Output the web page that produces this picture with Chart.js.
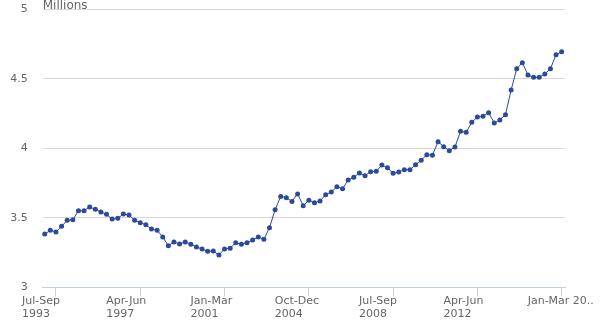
<!DOCTYPE html>
<html>
<head>
<meta charset="utf-8">
<script src="https://cdn.jsdelivr.net/npm/chart.js@4/dist/chart.umd.min.js"></script>
<style>
  body { margin: 0; background: #fff; }
  #wrap { width: 600px; height: 336px; position: relative; }
</style>
</head>
<body>
<div id="wrap"><canvas id="myChart"></canvas></div>
<script>
// --------------------
// Data
// --------------------
const periodNames = ["Jan-Mar", "Apr-Jun", "Jul-Sep", "Oct-Dec"];
const firstYear = 1993;
const quarterCount = 93;

// Quarter names, Jan-Mar 1993 .. Jan-Mar 2016
const quarters = [];
for (let i = 0; i < quarterCount; i++) {
  quarters.push(periodNames[i % 4] + " " + (firstYear + Math.floor(i / 4)));
}

// Millions
const values = [
  3.383, 3.410, 3.398, 3.439, 3.482, 3.486, 3.551, 3.551, 3.578, 3.561,
  3.542, 3.525, 3.491, 3.496, 3.527, 3.520, 3.482, 3.465, 3.450, 3.419,
  3.410, 3.362, 3.299, 3.326, 3.312, 3.326, 3.309, 3.290, 3.276, 3.259,
  3.261, 3.232, 3.276, 3.281, 3.321, 3.309, 3.321, 3.340, 3.362, 3.345,
  3.429, 3.558, 3.654, 3.644, 3.618, 3.672, 3.587, 3.626, 3.609, 3.621,
  3.666, 3.686, 3.724, 3.709, 3.772, 3.791, 3.822, 3.803, 3.832, 3.834,
  3.880, 3.860, 3.820, 3.829, 3.846, 3.846, 3.882, 3.914, 3.954, 3.950,
  4.048, 4.012, 3.983, 4.009, 4.122, 4.115, 4.187, 4.225, 4.230, 4.256,
  4.182, 4.204, 4.242, 4.419, 4.573, 4.616, 4.527, 4.511, 4.511, 4.535,
  4.573, 4.673, 4.695
];

// Labelled quarters on the x axis and the text shown for each
const tickQuarters = ["Jul-Sep 1993", "Apr-Jun 1997", "Jan-Mar 2001", "Oct-Dec 2004",
                      "Jul-Sep 2008", "Apr-Jun 2012", "Jan-Mar 2016"];
const tickLabels = [["Jul-Sep", "1993"], ["Apr-Jun", "1997"], ["Jan-Mar", "2001"],
                    ["Oct-Dec", "2004"], ["Jul-Sep", "2008"], ["Apr-Jun", "2012"],
                    "Jan-Mar 20.."];

const yTicks = [3, 3.5, 4, 4.5, 5];

const lineColor = "#2b4a9a";
const textColor = "#666666";
const font = "'DejaVu Sans', sans-serif";

const points = values.map((v, i) => ({ x: i, y: v }));
const tickIndex = tickQuarters.map(q => quarters.indexOf(q));

// no extra room around the scales, the plot box is set by hand
function noScalePadding(scale) {
  scale.paddingLeft = 0;
  scale.paddingRight = 0;
  scale.paddingTop = 0;
  scale.paddingBottom = 0;
}

// Units caption above the y axis
const unitsLabel = {
  id: "unitsLabel",
  afterDraw(chart) {
    const c = chart.ctx;
    c.save();
    c.font = "12px " + font;
    c.fillStyle = textColor;
    c.textAlign = "left";
    c.textBaseline = "alphabetic";
    c.fillText("Millions", chart.chartArea.left, 8.5);
    c.restore();
  }
};

const ctx = document.getElementById("myChart").getContext("2d");

new Chart(ctx, {
  type: "line",
  data: {
    datasets: [{
      data: points,
      borderColor: lineColor,
      backgroundColor: lineColor,
      borderWidth: 1,
      pointRadius: 2.5,
      pointBorderWidth: 0,
      tension: 0,
      clip: false
    }]
  },
  plugins: [unitsLabel],
  options: {
    responsive: true,
    maintainAspectRatio: false,
    animation: false,
    layout: {
      autoPadding: false,
      padding: { left: 0, right: 35, top: 9.3, bottom: 0 }
    },
    scales: {
      x: {
        type: "linear",
        min: -0.36,
        max: 92.59,
        afterBuildTicks(scale) {
          scale.ticks = tickIndex.map(v => ({ value: v }));
        },
        afterFit(scale) {
          scale.height = 48.7;
          noScalePadding(scale);
        },
        grid: {
          drawOnChartArea: false,
          drawTicks: true,
          tickLength: 9,
          color: "#c0d0e0"
        },
        border: { color: "#c0d0e0" },
        ticks: {
          autoSkip: false,
          maxRotation: 0,
          align: "start",
          labelOffset: -34,
          padding: -1,
          color: textColor,
          font: { family: font, size: 11, lineHeight: 1.15 },
          callback: (v) => tickLabels[tickIndex.indexOf(v)]
        }
      },
      y: {
        min: 3,
        max: 5,
        afterBuildTicks(scale) {
          scale.ticks = yTicks.map(v => ({ value: v }));
        },
        afterFit(scale) {
          scale.width = 42.7;
          noScalePadding(scale);
        },
        grid: { color: "#d8d8d8", drawTicks: false },
        border: { display: false },
        ticks: {
          padding: 15,
          color: textColor,
          font: { family: font, size: 11 },
          callback: (v) => String(v)
        }
      }
    },
    plugins: {
      legend: { display: false },
      tooltip: { enabled: false }
    }
  }
});
</script>
</body>
</html>
